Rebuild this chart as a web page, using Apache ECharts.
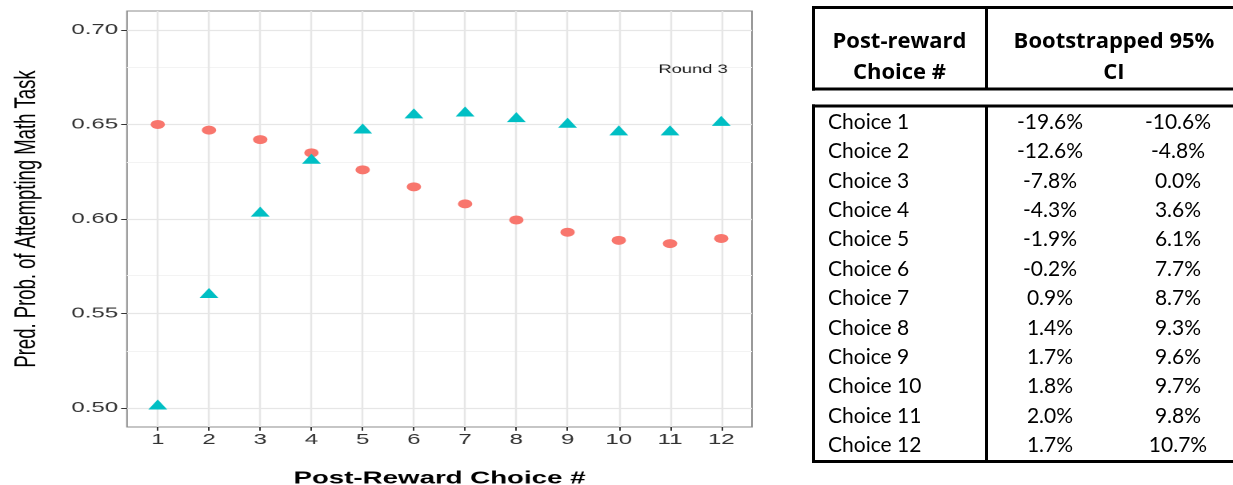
<!DOCTYPE html>
<html>
<head>
<meta charset="utf-8">
<script src="https://cdn.jsdelivr.net/npm/echarts@6/dist/echarts.min.js"></script>
<style>
  html, body { margin: 0; padding: 0; background: #fff; }
  body { width: 1233px; height: 485px; position: relative; overflow: hidden; }
  /* the plot is laid out narrow and widened horizontally */
  #plot { position: absolute; left: 0; top: 0; width: 500px; height: 485px;
          transform: scaleX(1.6); transform-origin: 0 0; }
  #table { position: absolute; left: 800px; top: 0; width: 433px; height: 485px; }
</style>
</head>
<body>
<div id="plot"></div>
<div id="table"></div>
<script>
// ---- plot data ----
const choices = [1, 2, 3, 4, 5, 6, 7, 8, 9, 10, 11, 12];
const circleValues = [0.650, 0.647, 0.642, 0.635, 0.626, 0.617, 0.608, 0.5995, 0.593, 0.5887, 0.587, 0.5897];
const triangleValues = [0.501, 0.560, 0.603, 0.631, 0.647, 0.655, 0.656, 0.653, 0.650, 0.646, 0.646, 0.651];
const yTicks = [0.50, 0.55, 0.60, 0.65, 0.70];
const yMinorTicks = [0.525, 0.575, 0.625, 0.675];
const roundLabel = 'Round 3';
const roundLabelAt = [11.45, 0.679];
const xTitle = 'Post-Reward Choice #';
const yTitle = 'Pred. Prob. of Attempting Math Task';

// ---- table data ----
const headerLeft = ['Post-reward', 'Choice #'];
const headerRight = ['Bootstrapped 95%', 'CI'];
const rowLabels = ['Choice 1', 'Choice 2', 'Choice 3', 'Choice 4', 'Choice 5', 'Choice 6',
                   'Choice 7', 'Choice 8', 'Choice 9', 'Choice 10', 'Choice 11', 'Choice 12'];
const ciLower = ['-19.6%', '-12.6%', '-7.8%', '-4.3%', '-1.9%', '-0.2%',
                 '0.9%', '1.4%', '1.7%', '1.8%', '2.0%', '1.7%'];
const ciUpper = ['-10.6%', '-4.8%', '0.0%', '3.6%', '6.1%', '7.7%',
                 '8.7%', '9.3%', '9.6%', '9.7%', '9.8%', '10.7%'];

const RED = '#F8766D';
const TEAL = '#00BFC4';
const axisFont = 'Liberation Sans, Arial, sans-serif';

const plot = echarts.init(document.getElementById('plot'), null, { renderer: 'canvas', devicePixelRatio: 2 });

const noMarkerLine = {
  symbol: ['none', 'none'], silent: true, animation: false, z: 0,
  label: { show: false }, emphasis: { disabled: true }
};

plot.setOption({
  animation: false,
  grid: {
    left: 79.4, right: 30, top: 11, bottom: 58,
    show: true, borderColor: '#8c8c8c', borderWidth: 1, backgroundColor: '#fff',
    outerBoundsMode: 'none'
  },
  xAxis: {
    type: 'value', min: 0.4, max: 12.6,
    name: xTitle, nameLocation: 'middle', nameGap: 43,
    nameTextStyle: { fontFamily: axisFont, fontSize: 17.3, fontWeight: 'bold', color: '#000' },
    axisLine: { show: false },
    axisTick: { show: true, customValues: choices, length: 3.7, lineStyle: { color: '#333', width: 1 } },
    axisLabel: { customValues: choices, margin: 5.5, fontFamily: axisFont, fontSize: 15, color: '#333' },
    splitLine: { show: false }
  },
  yAxis: {
    type: 'value', min: 0.49, max: 0.71,
    name: yTitle, nameLocation: 'middle', nameGap: 53,
    nameTextStyle: { fontFamily: axisFont, fontSize: 18.5, color: '#000' },
    axisLine: { show: false },
    axisTick: { show: true, customValues: yTicks, length: 3.7, lineStyle: { color: '#333', width: 1 } },
    axisLabel: { customValues: yTicks, margin: 5.6, fontFamily: axisFont, fontSize: 15, color: '#333',
                 formatter: v => v.toFixed(2) },
    splitLine: { show: false }
  },
  series: [
    {
      // minor horizontal grid lines
      type: 'scatter', data: [], z: 0, silent: true,
      markLine: Object.assign({}, noMarkerLine, {
        lineStyle: { color: '#f3f3f3', width: 1, type: 'solid' },
        data: yMinorTicks.map(v => ({ yAxis: v }))
      })
    },
    {
      // major grid lines
      type: 'scatter', data: [], z: 0, silent: true,
      markLine: Object.assign({}, noMarkerLine, {
        lineStyle: { color: '#e6e6e6', width: 1.2, type: 'solid' },
        data: choices.map(c => ({ xAxis: c })).concat(yTicks.map(v => ({ yAxis: v })))
      })
    },
    {
      type: 'scatter', z: 3, symbol: 'circle', symbolSize: 9,
      itemStyle: { color: RED, opacity: 1 },
      data: choices.map((c, i) => [c, circleValues[i]])
    },
    {
      type: 'scatter', z: 4, symbol: 'triangle', symbolSize: [11.8, 10], symbolOffset: [0, -1.67],
      itemStyle: { color: TEAL, opacity: 1 },
      data: choices.map((c, i) => [c, triangleValues[i]])
    }
  ]
});

const labelPos = plot.convertToPixel({ gridIndex: 0 }, roundLabelAt);
plot.setOption({
  graphic: [{
    type: 'text', x: labelPos[0], y: labelPos[1], silent: true, z: 10,
    style: { text: roundLabel, fontFamily: axisFont, fontSize: 11.5, fill: '#1a1a1a',
             align: 'center', verticalAlign: 'middle' }
  }]
});

// ---- table ----
const table = echarts.init(document.getElementById('table'), null, { renderer: 'canvas' });
const rowFont = 'Lato, "Open Sans", sans-serif';
const headFont = '"Open Sans", Lato, sans-serif';
const LW = 3;
const boxLeft = 13.5, divX = 186.5, extentRight = 440;
const headTop = 7.5, headBottom = 89, bodyTop = 106, bodyBottom = 461.5;
const firstRowY = 122, rowStep = 29.4;
const colLabelX = 28, colLowX = 250, colUpX = 378;
const headLeftX = 99.5, headRightX = 314, headLineY = [42, 73];

function hLine(y, x1, x2) {
  return { type: 'line', silent: true, shape: { x1: x1, y1: y, x2: x2, y2: y },
           style: { stroke: '#000', lineWidth: LW } };
}
function vLine(x, y1, y2) {
  return { type: 'line', silent: true, shape: { x1: x, y1: y1, x2: x, y2: y2 },
           style: { stroke: '#000', lineWidth: LW } };
}
function txt(s, x, y, align, bold) {
  return { type: 'text', x: x, y: y, silent: true,
           style: { text: s, fontFamily: bold ? headFont : rowFont, fontSize: bold ? 22 : 21,
                    fontWeight: bold ? 'bold' : 'normal',
                    fill: '#000', align: align, verticalAlign: 'middle' } };
}

const els = [
  hLine(headTop, boxLeft - LW / 2, extentRight),
  hLine(headBottom, boxLeft - LW / 2, extentRight),
  vLine(boxLeft, headTop - LW / 2, headBottom + LW / 2),
  vLine(divX, headTop, headBottom),
  hLine(bodyTop, boxLeft - LW / 2, extentRight),
  hLine(bodyBottom, boxLeft - LW / 2, extentRight),
  vLine(boxLeft, bodyTop - LW / 2, bodyBottom + LW / 2),
  vLine(divX, bodyTop, bodyBottom)
];
headerLeft.forEach((s, i) => els.push(txt(s, headLeftX, headLineY[i], 'center', true)));
headerRight.forEach((s, i) => els.push(txt(s, headRightX, headLineY[i], 'center', true)));
rowLabels.forEach((s, i) => {
  const y = firstRowY + i * rowStep;
  els.push(txt(s, colLabelX, y, 'left', false));
  els.push(txt(ciLower[i], colLowX, y, 'center', false));
  els.push(txt(ciUpper[i], colUpX, y, 'center', false));
});
table.setOption({ animation: false, graphic: els });
</script>
</body>
</html>
